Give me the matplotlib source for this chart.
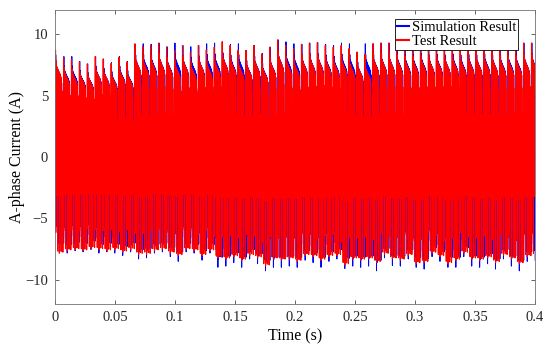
import numpy as np
import matplotlib
matplotlib.use("Agg")
import matplotlib.pyplot as plt

# pulse peaks, one value per current pulse (61 pulses in 0.4 s)
test_pos = [8.7, 8.1, 8.0, 7.75, 7.6, 8.2, 8.0, 7.65, 8.15, 7.75,
            9.24, 9.0, 9.1, 9.3, 8.97, 8.7, 9.1, 8.56, 9.1, 8.75,
            8.97, 9.4, 9.1, 8.7, 8.7, 9.1, 8.4, 8.97, 9.56, 9.1,
            8.85, 9.2, 9.3, 9.35, 9.1, 8.97, 9.1, 8.85, 8.56, 8.4,
            9.24, 9.3, 9.3, 9.2, 9.1, 9.1, 9.2, 9.2, 9.2, 9.2,
            9.2, 9.1, 9.2, 9.2, 9.2, 9.2, 9.1, 9.1, 9.1, 9.3, 9.3]
sim_pos = [8.3, 8.2, 8.2, 7.8, 7.6, 8.2, 8.0, 7.7, 8.2, 7.8,
           9.2, 9.24, 9.2, 9.3, 9.0, 9.3, 9.1, 9.0, 9.1, 9.24,
           9.3, 9.4, 9.2, 9.24, 8.7, 9.1, 8.45, 8.97, 9.56, 9.4,
           9.24, 9.2, 9.3, 9.35, 9.2, 9.1, 9.3, 9.24, 8.56, 9.24,
           9.24, 9.3, 9.3, 9.25, 9.2, 9.2, 9.3, 9.2, 9.25, 9.2,
           9.3, 9.2, 9.25, 9.2, 9.3, 9.2, 9.2, 9.25, 9.2, 9.3, 9.3]
test_neg = [-8.2, -8.0, -7.9, -8.0, -7.8, -7.9, -8.0, -7.9, -8.1, -7.9,
            -8.3, -8.3, -8.0, -7.9, -8.2, -8.4, -7.9, -8.0, -8.4, -8.0, -8.6,
            -8.7, -8.5, -8.8, -8.4, -8.6, -9.3, -8.7, -8.8, -8.7, -8.9,
            -8.4, -8.5, -8.8, -8.5, -8.4, -9.2, -8.7, -8.8, -8.7,
            -9.0, -8.3, -8.7, -8.8, -8.4, -9.1, -9.0, -8.2, -8.5, -9.1,
            -8.8, -8.2, -8.7, -8.8, -8.6, -9.0, -8.4, -8.7, -9.1, -8.5, -8.4]
sim_neg = [-8.0, -8.1, -7.9, -8.0, -7.8, -8.1, -8.0, -8.1, -8.3, -8.0,
           -8.6, -8.5, -8.1, -8.0, -8.4, -8.8, -8.0, -8.1, -8.7, -8.1, -9.3,
           -9.2, -8.9, -9.3, -8.6, -9.0, -9.6, -9.3, -9.3, -9.2, -9.3,
           -8.7, -8.9, -9.3, -8.8, -8.6, -9.4, -9.2, -9.3, -9.2,
           -9.6, -8.5, -9.15, -9.2, -8.6, -9.3, -9.45, -8.4, -8.8, -9.3,
           -9.3, -8.4, -9.2, -9.3, -9.0, -9.45, -8.6, -9.2, -9.6, -8.8, -8.7]

# shape of one pulse (fraction of its peak vs. phase)
upper_phase = [0.00, 0.04, 0.10, 0.30, 0.55, 0.72, 0.77, 0.82, 0.92, 0.96, 1.00]
upper_frac = [1.00, 0.92, 0.86, 0.82, 0.78, 0.74, 0.40, 0.26, 0.26, 0.85, 1.00]
lower_phase = [0.00, 0.07, 0.10, 0.15, 0.20, 0.38, 0.43, 0.48, 0.70, 1.00]
test_lower_frac = [0.95, 0.45, 0.42, 0.45, 0.93, 0.95, 1.00, 0.95, 0.94, 0.95]
sim_lower_frac = [0.88, 0.45, 0.42, 0.45, 0.86, 0.88, 1.00, 0.88, 0.87, 0.88]

period = 0.00661
first_peak = 0.0005
sim_lag = 0.0003
n_sub = 36

x_ticks = [0, 0.05, 0.1, 0.15, 0.2, 0.25, 0.3, 0.35, 0.4]
x_labels = ["0", "0.05", "0.1", "0.15", "0.2", "0.25", "0.3", "0.35", "0.4"]
y_ticks = [-10, -5, 0, 5, 10]


def build_wave(pos_peaks, neg_peaks, lower_frac, t0, deep_every):
    j = np.arange(n_sub)
    ph = j / n_sub
    up = np.interp(ph, upper_phase, upper_frac)
    lo = np.interp(ph, lower_phase, lower_frac)
    # only some of the downward swings reach the full negative envelope
    deep = (j % (2 * deep_every)) == 1
    lo = np.where(deep, lo, np.minimum(lo, 0.38))
    t_all, y_all = [], []
    for k, (hi, lo_pk) in enumerate(zip(pos_peaks, neg_peaks)):
        vals = np.where(j % 2 == 0, up * hi, -lo * abs(lo_pk))
        t_all.append(t0 + (k + ph) * period)
        y_all.append(vals)
    return np.concatenate(t_all), np.concatenate(y_all)


t_sim, y_sim = build_wave(sim_pos, sim_neg, sim_lower_frac, first_peak + sim_lag, 1)
t_test, y_test = build_wave(test_pos, test_neg, test_lower_frac, first_peak, 4)

plt.rcParams["font.family"] = "Liberation Serif"

fig = plt.figure(figsize=(5.5, 3.54), dpi=100)
ax = fig.add_axes([0.1, 0.1412, 0.8727, 0.8306])

ax.plot(t_sim, y_sim, color="#0000ff", lw=0.7, label="Simulation Result")
ax.plot(t_test, y_test, color="#ff0000", lw=0.8, label="Test Result")

ax.set_xlim(0, 0.4)
ax.set_ylim(-12, 12)
ax.set_xticks(x_ticks)
ax.set_xticklabels(x_labels)
ax.set_yticks(y_ticks)
ax.tick_params(direction="in", length=3, width=0.5, labelsize=10.5,
               top=True, right=True, colors="0.15", pad=5)
for s in ax.spines.values():
    s.set_color("0.45")
    s.set_linewidth(0.6)

ax.set_xlabel("Time (s)", fontsize=11.5, labelpad=3)
ax.set_ylabel("A-phase Current (A)", fontsize=11.5, labelpad=0)

leg = ax.legend(loc="upper right", bbox_to_anchor=(0.965, 0.97), fontsize=10.5,
                handlelength=0.8, handletextpad=0.2, borderpad=0.15,
                labelspacing=0.05, borderaxespad=0, fancybox=False,
                framealpha=1)
leg.get_frame().set_edgecolor("black")
leg.get_frame().set_linewidth(0.6)
for h in leg.get_lines():
    h.set_linewidth(1.5)

fig.savefig("out.png", dpi=100)
